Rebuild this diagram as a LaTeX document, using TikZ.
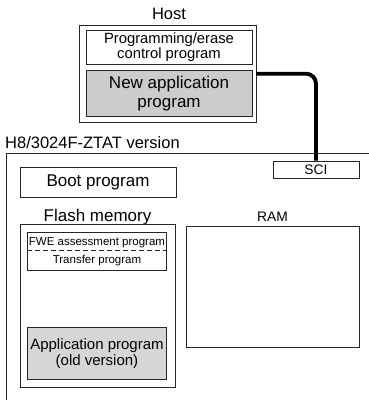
\documentclass[tikz,border=0pt]{standalone}
\usepackage{fontspec}
\setmainfont{Liberation Sans}
\newcommand\fsz[2]{\fontsize{#1}{#2}\selectfont}
\begin{document}
\begin{tikzpicture}[x=1pt,y=-1pt]
\tikzset{
  box/.style={draw=black!85, line width=0.9pt, rectangle, inner sep=0pt, align=center},
  grayfill/.style={fill=black!20},
  lightfill/.style={fill=black!16},
  lbl/.style={inner sep=0pt, anchor=base},
  conn/.style={line width=3.9pt, rounded corners=10pt},
  chipline/.style={draw=black!85, line width=0.9pt},
}
\useasboundingbox (0,0) rectangle (369,400);
% Host
\node[lbl, font=\fsz{16.5}{18}] (hostlbl) at (169,19) {Host};
\node[box, minimum width=177pt, minimum height=97pt] (host) at (167.5,73.5) {};
\node[box, minimum width=166pt, minimum height=34pt, font=\fsz{14.8}{14.5}] (ctrl) at (169,47) {Programming/erase\\control program};
\node[box, grayfill, minimum width=166pt, minimum height=46pt, font=\fsz{17}{18.3}] (newapp) at (169,93.5) {New application\\program};
% Chip
\coordinate (ctl) at (6,153);
\coordinate (ctr) at (369,153);
\coordinate (cbl) at (6,400);
\draw[chipline] (ctr) -- (ctl) -- (cbl);
\node[lbl, anchor=base west, font=\fsz{16.5}{18}] (chiplbl) at (5,148) {H8/3024F-ZTAT version};
\node[box, minimum width=86pt, minimum height=17pt, font=\fsz{13.8}{14}] (sci) at (316,169.5) {SCI};
\node[box, minimum width=156pt, minimum height=30pt, font=\fsz{17}{18}] (boot) at (98,182) {Boot program};
\node[lbl, font=\fsz{17}{18}] (flashlbl) at (97.5,221) {Flash memory};
\node[lbl, font=\fsz{13.8}{14}] (ramlbl) at (272.5,221) {RAM};
\node[box, minimum width=155pt, minimum height=163pt] (flash) at (97.5,305.5) {};
\node[box, minimum width=139.4pt, minimum height=37.7pt] (fwe) at (97,251.2) {};
\draw[dashed, dash pattern=on 5pt off 3pt, line width=0.9pt, draw=black!85] (fwe.west |- 0,250.5) -- (fwe.east |- 0,250.5);
\node[lbl, font=\fsz{11.5}{12}] (fwetxt) at (97,245.7) {FWE assessment program};
\node[lbl, font=\fsz{11.5}{12}] (trtxt) at (97,263.3) {Transfer program};
\node[box, lightfill, minimum width=139.4pt, minimum height=51.3pt, font=\fsz{15}{16}] (app) at (97,353.3) {Application program\\(old version)};
\node[box, minimum width=173pt, minimum height=121pt] (ram) at (272.5,286.5) {};
% Connector
\coordinate (hs) at (256,73.7);
\draw[conn] (hs) -| (sci.north);
\end{tikzpicture}
\end{document}
